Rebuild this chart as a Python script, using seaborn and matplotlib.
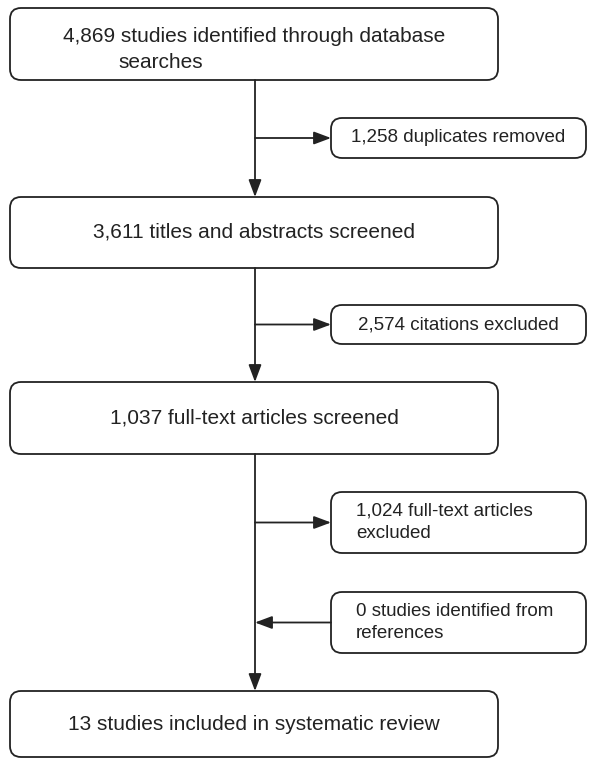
import matplotlib
matplotlib.use("Agg")
import matplotlib.pyplot as plt
import seaborn as sns
from matplotlib.patches import FancyBboxPatch

sns.set_theme(style="white")
plt.rcParams['font.family'] = ['Liberation Sans', 'DejaVu Sans']

# flow counts and labels
main_counts = [4869, 3611, 1037, 13]
main_labels = ["4,869 studies identified through database\nsearches",
               "3,611 titles and abstracts screened",
               "1,037 full-text articles screened",
               "13 studies included in systematic review"]
side_counts = [1258, 2574, 1024, 0]
side_labels = ["1,258 duplicates removed",
               "2,574 citations excluded",
               "1,024 full-text articles\nexcluded",
               "0 studies identified from\nreferences"]
side_direction = ["out", "out", "out", "in"]

# layout in pixels (x0, y0, x1, y1)
main_boxes = [(10, 8, 498, 80), (10, 197, 498, 268), (10, 382, 498, 454), (10, 691, 498, 757)]
side_boxes = [(331, 118, 586, 158), (331, 305, 586, 344), (331, 492, 586, 553), (331, 592, 586, 653)]
spine_x = 255
ink = "#222222"

fig = plt.figure(figsize=(5.89, 7.59), dpi=100)
ax = fig.add_axes([0, 0, 1, 1])
ax.set_xlim(0, 589)
ax.set_ylim(759, 0)
ax.axis('off')


def draw_box(x0, y0, x1, y1):
    ax.add_patch(FancyBboxPatch((x0, y0), x1 - x0, y1 - y0,
                                boxstyle="round,pad=0,rounding_size=11",
                                fc="white", ec=ink, lw=1.3))


def arrow(x0, y0, x1, y1):
    ax.annotate("", xy=(x1, y1), xytext=(x0, y0),
                arrowprops=dict(arrowstyle="-|>,head_length=0.8,head_width=0.3",
                                color=ink, lw=1.3,
                                mutation_scale=13, shrinkA=0, shrinkB=0))


for i, (box, label) in enumerate(zip(main_boxes, main_labels)):
    x0, y0, x1, y1 = box
    draw_box(*box)
    lines = label.split("\n")
    if len(lines) == 2:
        ax.text((x0 + x1) / 2, y0 + 29, lines[0], ha='center', va='center',
                fontsize=15, color=ink)
        ax.text(118, y0 + 54, lines[1], ha='left', va='center',
                fontsize=15, color=ink)
    else:
        ax.text((x0 + x1) / 2, (y0 + y1) / 2, label, ha='center', va='center',
                fontsize=15, color=ink)

# vertical spine with arrows into each main box
arrow(spine_x, main_boxes[0][3], spine_x, main_boxes[1][1])
arrow(spine_x, main_boxes[1][3], spine_x, main_boxes[2][1])
arrow(spine_x, main_boxes[2][3], spine_x, main_boxes[3][1])

for box, label, d in zip(side_boxes, side_labels, side_direction):
    x0, y0, x1, y1 = box
    draw_box(*box)
    ym = (y0 + y1) / 2
    if "\n" in label:
        ax.text(356, ym, label, ha='left', va='center', fontsize=13.5,
                color=ink, linespacing=1.4)
    else:
        ax.text((x0 + x1) / 2, ym, label, ha='center', va='center',
                fontsize=13.5, color=ink)
    if d == "out":
        arrow(spine_x, ym, x0, ym)
    else:
        arrow(x0, ym, spine_x, ym)

fig.savefig("out.png", dpi=100, facecolor="white")
